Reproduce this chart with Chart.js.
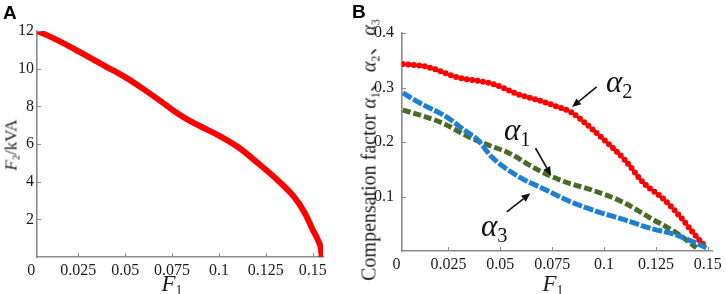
<!DOCTYPE html>
<html>
<head>
<meta charset="utf-8">
<script src="https://cdn.jsdelivr.net/npm/chart.js@4.4.1/dist/chart.umd.min.js"></script>
<style>
  html, body { margin: 0; padding: 0; background: #fff; }
  #wrap { position: relative; width: 726px; height: 294px; overflow: hidden;
          font-family: "Liberation Serif", "DejaVu Serif", "Noto Sans CJK SC", serif; color: #1a1a1a; }
  canvas { position: absolute; top: 0; }
  .tag { position: absolute; font: bold 19px "Liberation Sans", Arial, sans-serif; color: #000; line-height: 1; }
  .ytitle { position: absolute; white-space: nowrap; line-height: 1;
            transform: translate(-50%, -50%) rotate(-90deg); }
  .xtitle { position: absolute; transform: translateX(-50%); font-size: 23px; line-height: 1; white-space: nowrap; }
  .note { position: absolute; font-size: 31px; line-height: 1; white-space: nowrap; color: #111; }
  .note sub { font-size: 0.66em; }
  .cj { font-family: "Noto Sans CJK SC", sans-serif; }
  sub { font-size: 0.6em; font-style: normal; vertical-align: baseline; position: relative; top: 0.3em; }
</style>
</head>
<body>
<div id="wrap">
  <canvas id="chartA" width="362" height="294" style="left:0"></canvas>
  <canvas id="chartB" width="363" height="294" style="left:363px"></canvas>

  <div class="tag" style="left:3px; top:3px">A</div>
  <div class="tag" style="left:352px; top:2px">B</div>

  <div class="ytitle" style="left:11px; top:145px; font-size:17px"><i>F</i><sub>2</sub>/kVA</div>
  <div class="ytitle" style="left:368px; top:150px; font-size:20px">Compensation factor <i>α</i><sub>1</sub><span class="cj">、</span><i>α</i><sub>2</sub><span class="cj">、</span><i>α</i><sub>3</sub></div>

  <div class="xtitle" style="left:172px; top:272px"><i>F</i><sub>1</sub></div>
  <div class="xtitle" style="left:553px; top:272px"><i>F</i><sub>1</sub></div>

  <div class="note" style="left:606px; top:66px"><i>α</i><sub>2</sub></div>
  <div class="note" style="left:504px; top:114px"><i>α</i><sub>1</sub></div>
  <div class="note" style="left:481px; top:210px"><i>α</i><sub>3</sub></div>
</div>
<script>
// panel A: F2 (kVA) against F1
const panelAF1 = [0.003, 0.010, 0.020, 0.030, 0.040, 0.050, 0.060, 0.070, 0.078, 0.085,
                  0.093, 0.100, 0.110, 0.120, 0.130, 0.140, 0.146, 0.150, 0.153, 0.1545, 0.1548];
const panelAF2 = [12.0, 11.7, 11.2, 10.65, 10.1, 9.55, 8.9, 8.2, 7.62, 7.2,
                  6.8, 6.45, 5.85, 5.05, 4.2, 3.2, 2.3, 1.45, 0.85, 0.35, 0.0];

// panel B: compensation factors against F1
const alpha2F1 = [0.003, 0.0145, 0.030, 0.046, 0.059, 0.068, 0.078, 0.084, 0.092, 0.100,
                  0.110, 0.119, 0.129, 0.138, 0.1445, 0.1493];
const alpha2 = [0.343, 0.338, 0.318, 0.307, 0.287, 0.277, 0.264, 0.255, 0.231, 0.204,
                0.167, 0.125, 0.094, 0.057, 0.026, 0.006];

const alpha1F1 = [0.003, 0.022, 0.035, 0.0445, 0.054, 0.068, 0.081, 0.094, 0.110, 0.122, 0.135, 0.1445];
const alpha1 = [0.259, 0.235, 0.209, 0.194, 0.180, 0.149, 0.127, 0.112, 0.088, 0.061, 0.033, 0.006];

const alpha3F1 = [0.003, 0.011, 0.024, 0.0326, 0.039, 0.046, 0.059, 0.072, 0.084, 0.097,
                  0.110, 0.122, 0.135, 0.1493];
const alpha3 = [0.290, 0.272, 0.246, 0.222, 0.204, 0.172, 0.136, 0.112, 0.090, 0.072,
                0.057, 0.042, 0.029, 0.006];

const xTicks = [0, 0.025, 0.05, 0.075, 0.1, 0.125, 0.15];
const yTicksA = [2, 4, 6, 8, 10, 12];
const yTicksB = [0.1, 0.2, 0.3, 0.4];

// arrows from label to curve, in data units of panel B
const arrowNotes = [
  { from: [0.0964, 0.301], to: [0.0845, 0.264] },
  { from: [0.0669, 0.189], to: [0.0745, 0.138] },
  { from: [0.0531, 0.072], to: [0.0645, 0.106] }
];

const AXIS = '#8a8a8a';
const TICK_FONT = { family: 'Liberation Serif', size: 16 };

const toPoints = (xs, ys) => xs.map((x, i) => ({ x: x, y: ys[i] }));

const innerTicks = {
  id: 'innerTicks',
  afterDraw(chart) {
    const { ctx, chartArea, scales: { x, y } } = chart;
    ctx.save();
    ctx.strokeStyle = AXIS;
    ctx.lineWidth = 1;
    ctx.beginPath();
    x.ticks.forEach(t => {
      const px = Math.round(x.getPixelForValue(t.value)) + 0.5;
      if (px <= chartArea.left + 1 || px > chartArea.right + 1) return;
      ctx.moveTo(px, chartArea.bottom);
      ctx.lineTo(px, chartArea.bottom - 4);
    });
    y.ticks.forEach(t => {
      const py = Math.round(y.getPixelForValue(t.value)) + 0.5;
      if (py < chartArea.top - 1 || py >= chartArea.bottom - 1) return;
      ctx.moveTo(chartArea.left, py);
      ctx.lineTo(chartArea.left + 4, py);
    });
    ctx.stroke();
    ctx.restore();
  }
};

const arrows = {
  id: 'arrows',
  afterDatasetsDraw(chart) {
    const { ctx, scales: { x, y } } = chart;
    ctx.save();
    ctx.strokeStyle = '#111';
    ctx.fillStyle = '#111';
    ctx.lineWidth = 1.6;
    arrowNotes.forEach(a => {
      const x1 = x.getPixelForValue(a.from[0]), y1 = y.getPixelForValue(a.from[1]);
      const x2 = x.getPixelForValue(a.to[0]), y2 = y.getPixelForValue(a.to[1]);
      const ang = Math.atan2(y2 - y1, x2 - x1);
      const len = 9, half = 3.8;
      const bx = x2 - len * Math.cos(ang), by = y2 - len * Math.sin(ang);
      ctx.beginPath();
      ctx.moveTo(x1, y1);
      ctx.lineTo(bx, by);
      ctx.stroke();
      ctx.beginPath();
      ctx.moveTo(x2, y2);
      ctx.lineTo(bx + half * Math.sin(ang), by - half * Math.cos(ang));
      ctx.lineTo(bx - half * Math.sin(ang), by + half * Math.cos(ang));
      ctx.closePath();
      ctx.fill();
    });
    ctx.restore();
  }
};

function axes(opts) {
  return {
    x: {
      type: 'linear',
      min: opts.xMin,
      max: opts.xMax,
      afterBuildTicks: (scale) => { scale.ticks = xTicks.map(v => ({ value: v })); },
      afterFit: (scale) => { scale.height = opts.xHeight; },
      grid: { display: false, drawTicks: false },
      border: { display: true, color: AXIS, width: 1.6 },
      ticks: { autoSkip: false, maxRotation: 0, padding: 4, color: '#1a1a1a', font: TICK_FONT,
               callback: (v) => String(v) }
    },
    y: {
      type: 'linear',
      min: opts.yMin,
      max: opts.yMax,
      afterBuildTicks: (scale) => { scale.ticks = opts.yTicks.map(v => ({ value: v })); },
      afterFit: (scale) => { scale.width = opts.yWidth; },
      grid: { display: false, drawTicks: false },
      border: { display: true, color: AXIS, width: 1.6 },
      ticks: { autoSkip: false, padding: opts.yPad, color: '#1a1a1a', font: TICK_FONT,
               callback: (v) => String(v) }
    }
  };
}

const common = {
  responsive: false,
  animation: false,
  devicePixelRatio: 1,
  plugins: { legend: { display: false }, tooltip: { enabled: false } },
  elements: { point: { radius: 0 } }
};

function drawCharts() {
  new Chart(document.getElementById('chartA'), {
    type: 'scatter',
    data: {
      datasets: [{
        data: toPoints(panelAF1, panelAF2),
        showLine: true,
        borderColor: '#ff0000',
        borderWidth: 6,
        borderCapStyle: 'round',
        borderJoinStyle: 'round',
        cubicInterpolationMode: 'monotone'
      }]
    },
    options: Object.assign({}, common, {
      layout: { padding: { top: 31, right: 39, left: 0, bottom: 0 } },
      scales: axes({ xMin: 0.003, xMax: 0.1555, yMin: 0, yMax: 12, yTicks: yTicksA,
                     xHeight: 37, yWidth: 37, yPad: 3 })
    }),
    plugins: [innerTicks]
  });

  new Chart(document.getElementById('chartB'), {
    type: 'scatter',
    data: {
      datasets: [{
        label: 'α3',
        data: toPoints(alpha3F1, alpha3),
        showLine: true,
        borderColor: '#1f80d2',
        borderWidth: 5,
        borderDash: [10, 2],
        borderCapStyle: 'butt',
        cubicInterpolationMode: 'monotone'
      }, {
        label: 'α1',
        data: toPoints(alpha1F1, alpha1),
        showLine: true,
        borderColor: '#4a6b28',
        borderWidth: 5,
        borderDash: [8, 3],
        borderCapStyle: 'butt',
        cubicInterpolationMode: 'monotone'
      }, {
        label: 'α2',
        data: toPoints(alpha2F1, alpha2),
        showLine: true,
        borderColor: '#ff0000',
        borderWidth: 6,
        borderDash: [0, 5.5],
        borderCapStyle: 'round',
        cubicInterpolationMode: 'monotone'
      }]
    },
    options: Object.assign({}, common, {
      layout: { padding: { top: 33, right: 10, left: 0, bottom: 0 } },
      scales: axes({ xMin: 0.0026, xMax: 0.152, yMin: 0, yMax: 0.4, yTicks: yTicksB,
                     xHeight: 43, yWidth: 39, yPad: 8 })
    }),
    plugins: [innerTicks, arrows]
  });
}

if (document.fonts && document.fonts.load) {
  document.fonts.load('16px "Liberation Serif"').then(drawCharts, drawCharts);
} else {
  drawCharts();
}
</script>
</body>
</html>
